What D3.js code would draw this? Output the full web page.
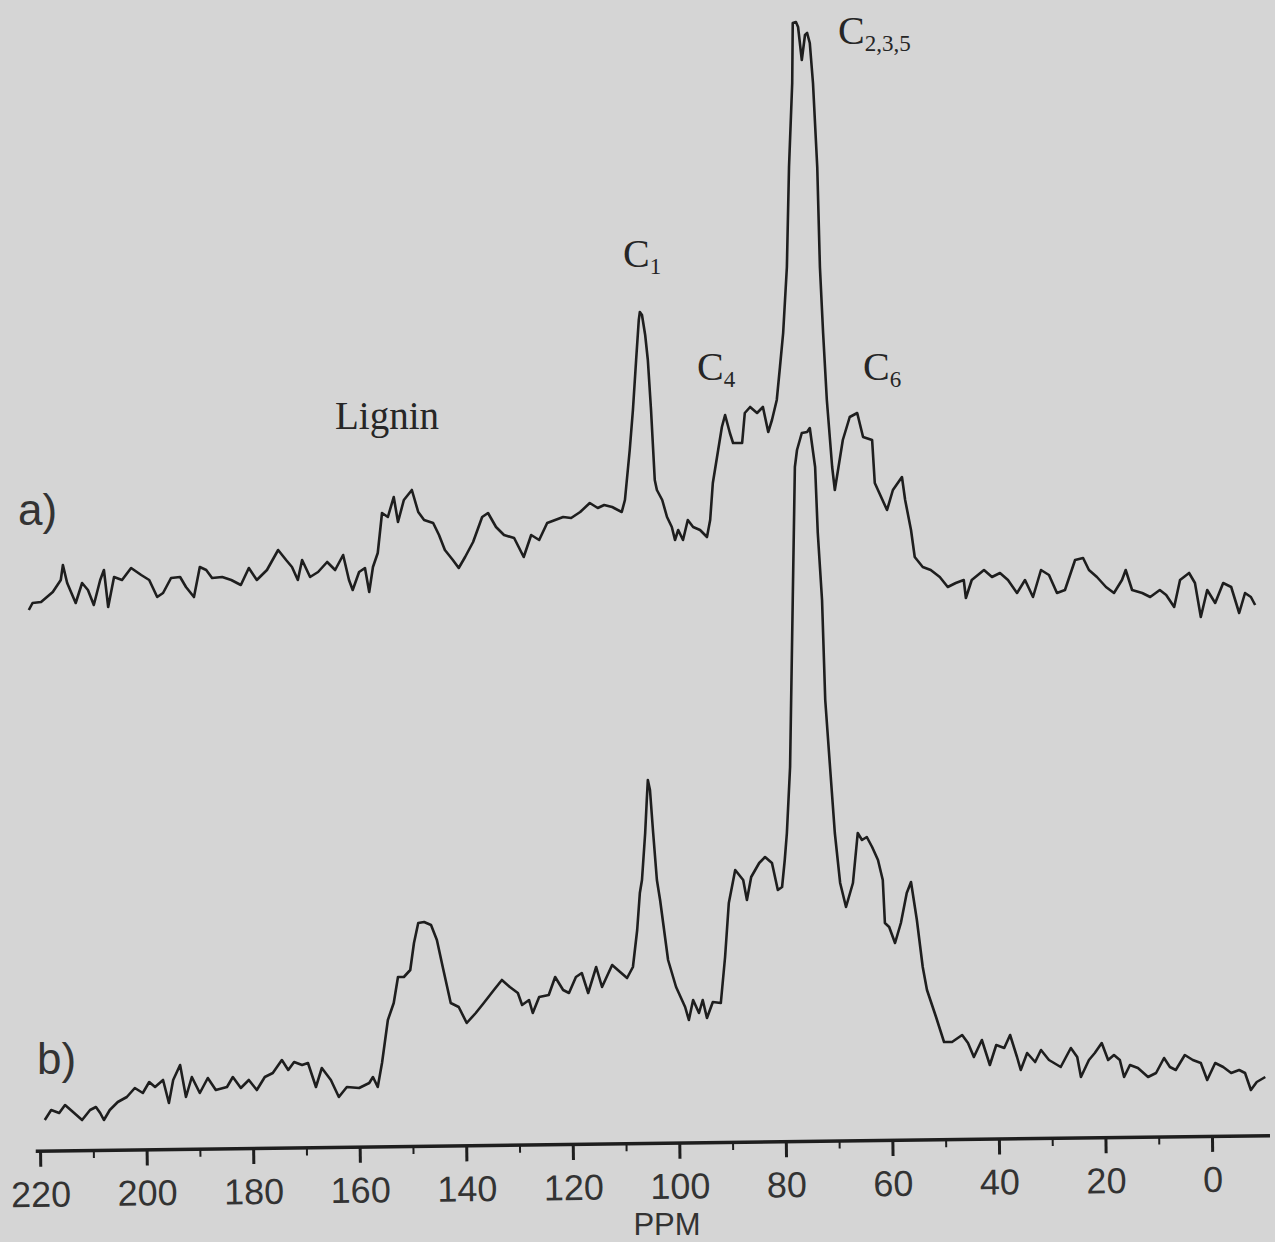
<!DOCTYPE html>
<html>
<head>
<meta charset="utf-8">
<script src="https://cdn.jsdelivr.net/npm/d3@7"></script>
<style>
body { margin: 0; background: #d5d5d5; }
</style>
</head>
<body>
<div id="plot"></div>
<script>
// tick labels of the ppm axis
var ppmTicks = [220, 200, 180, 160, 140, 120, 100, 80, 60, 40, 20, 0];
var ppmMinorTicks = [210, 190, 170, 150, 130, 110, 90, 70, 50, 30, 10];

// spectrum a) : [ppm, intensity (a.u.)]
var spectrumA = [
    [222.1,1.0],[221.4,1.7],[219.8,1.8],[217.6,2.8],[216.1,4.0],[215.7,5.5],[214.9,3.7],[213.3,1.7],[212.1,3.7],[211.0,3.0],
    [209.9,1.5],[208.7,4.0],[208.0,5.0],[207.2,1.3],[206.1,4.3],[204.6,4.0],[202.9,5.2],[201.0,4.5],[199.5,4.0],[198.0,2.3],
    [196.9,2.7],[195.4,4.2],[193.7,4.3],[192.6,3.3],[191.1,2.3],[190.0,5.3],[188.8,5.0],[187.7,4.2],[185.8,4.3],[184.1,4.0],
    [182.3,3.5],[180.8,5.2],[179.3,4.0],[177.4,5.0],[175.3,7.0],[173.8,6.0],[172.7,5.3],[171.6,4.0],[170.8,6.0],[169.3,4.3],
    [167.8,4.8],[166.1,5.8],[164.6,5.0],[163.1,6.5],[162.0,4.0],[161.3,3.0],[160.1,4.8],[159.0,5.2],[158.2,2.8],[157.5,5.3],
    [156.6,6.7],[155.8,10.7],[154.7,10.3],[153.6,12.3],[152.8,9.8],[151.7,12.0],[150.2,13.0],[149.0,10.8],[147.9,10.0],[146.2,9.7],
    [145.1,8.5],[144.0,7.0],[142.5,6.0],[141.4,5.2],[140.2,6.3],[138.7,7.8],[137.0,10.3],[135.9,10.7],[134.4,9.3],[132.9,8.5],
    [131.0,8.2],[129.2,6.3],[127.8,8.5],[126.3,8.0],[124.8,9.7],[123.3,10.0],[121.8,10.3],[120.3,10.2],[118.6,10.8],[116.8,11.7],
    [115.3,11.2],[114.1,11.5],[112.6,11.3],[110.8,10.8],[110.2,12.0],[109.3,17.0],[108.7,21.0],[108.1,26.0],[107.6,30.0],[107.4,30.8],
    [107.0,30.5],[106.4,28.5],[105.9,26.0],[105.3,21.0],[104.9,17.0],[104.6,14.0],[104.2,13.0],[103.2,12.0],[102.3,10.3],[101.4,9.3],
    [100.8,8.0],[100.2,9.0],[99.3,8.0],[98.4,10.0],[97.4,9.3],[96.1,9.0],[94.8,8.3],[94.2,10.0],[93.7,13.7],[92.7,17.0],
    [92.0,19.3],[91.4,20.5],[90.5,18.7],[89.9,17.7],[88.2,17.7],[87.7,20.7],[86.7,21.3],[85.4,20.7],[84.3,21.3],[83.3,18.8],
    [82.6,20.0],[81.7,22.0],[81.1,25.3],[80.5,28.7],[79.8,35.3],[79.4,45.3],[78.8,53.7],[78.7,59.7],[78.1,59.8],[77.7,59.3],
    [77.0,56.0],[76.4,58.5],[76.0,58.7],[75.5,57.7],[74.9,53.7],[74.1,45.3],[73.6,35.3],[73.0,28.7],[72.3,22.0],[71.3,15.3],
    [70.8,13.0],[69.3,18.0],[68.0,20.3],[66.6,20.7],[65.5,18.3],[63.8,18.0],[63.3,13.7],[61.0,11.0],[59.9,13.0],[58.2,14.3],
    [57.6,12.0],[56.5,9.0],[55.8,6.3],[54.3,5.3],[52.8,5.0],[51.1,4.3],[49.6,3.3],[48.1,3.7],[46.6,4.0],[46.2,2.2],
    [45.1,4.0],[42.8,5.0],[41.3,4.3],[39.8,4.7],[38.3,4.0],[36.6,2.7],[35.1,4.0],[33.6,2.3],[32.1,5.0],[30.6,4.5],
    [29.1,2.7],[27.6,3.0],[25.7,6.0],[24.2,6.2],[23.1,5.0],[21.6,4.3],[19.9,3.3],[18.4,2.7],[16.9,4.0],[16.2,5.0],
    [15.0,3.0],[13.1,2.7],[11.6,2.3],[9.8,3.0],[8.6,2.5],[7.1,1.3],[6.0,4.0],[4.3,4.7],[3.2,3.7],[2.1,0.3],
    [0.9,3.0],[-0.6,1.7],[-2.1,3.7],[-3.6,3.3],[-5.1,0.7],[-6.2,2.7],[-7.3,2.3],[-8.1,1.5]
];

// spectrum b) : [ppm, intensity (a.u.)]
var spectrumB = [
    [219.1,2.0],[217.9,3.0],[216.4,2.7],[215.3,3.5],[213.8,2.8],[212.1,2.0],[210.6,3.0],[209.5,3.3],[208.7,2.7],[208.0,2.0],
    [206.9,3.0],[205.4,3.8],[203.7,4.3],[202.2,5.2],[200.7,4.7],[199.5,5.8],[198.4,5.3],[196.9,6.0],[195.8,3.7],[195.0,6.0],
    [193.7,7.5],[192.6,4.3],[191.5,6.3],[190.0,4.7],[188.5,6.2],[187.0,5.0],[184.9,5.3],[183.8,6.3],[182.3,5.2],[180.8,6.0],
    [179.3,5.0],[177.8,6.3],[176.3,6.7],[174.6,8.0],[173.4,7.0],[172.3,7.8],[170.8,7.5],[169.7,7.7],[168.2,5.3],[167.1,7.2],
    [165.4,6.0],[163.9,4.3],[162.4,5.3],[160.1,5.2],[158.2,5.7],[157.5,6.3],[156.6,5.3],[155.8,7.7],[154.7,12.0],[153.6,13.7],
    [152.8,16.3],[151.7,16.3],[150.5,17.0],[149.8,19.7],[149.0,21.7],[147.9,21.8],[146.6,21.5],[145.5,20.0],[144.4,17.3],[142.9,13.7],
    [141.4,13.3],[139.9,11.7],[138.2,12.7],[136.7,13.7],[134.8,15.0],[133.3,16.0],[131.8,15.3],[130.3,14.7],[129.5,13.5],[128.2,14.0],
    [127.5,12.7],[126.3,14.3],[124.5,14.5],[123.3,16.3],[121.8,15.0],[120.7,14.7],[119.4,16.3],[118.3,16.7],[117.1,14.7],[115.6,17.3],
    [114.5,15.3],[112.6,17.5],[111.1,16.8],[109.8,16.2],[108.7,17.3],[107.9,21.0],[107.4,24.7],[107.0,26.0],[106.4,30.7],[106.1,34.0],
    [105.9,36.0],[105.5,35.0],[104.9,30.7],[104.2,26.0],[103.6,24.0],[102.1,18.0],[100.6,15.3],[98.9,13.3],[98.2,12.0],[97.4,14.0],
    [96.3,12.7],[95.6,14.0],[94.8,12.2],[93.7,13.8],[92.2,13.7],[91.4,18.3],[90.7,23.7],[89.5,27.0],[88.0,26.0],[87.3,24.0],
    [86.5,26.3],[85.0,27.7],[83.9,28.3],[82.6,27.7],[81.5,25.0],[80.7,25.3],[80.2,28.0],[79.8,30.7],[79.2,37.3],[78.7,54.0],
    [78.3,67.3],[77.9,69.0],[77.0,70.7],[76.0,70.8],[75.5,71.2],[74.5,67.3],[74.0,60.7],[73.2,54.0],[72.6,44.0],[71.7,37.3],
    [70.8,30.7],[69.8,25.7],[68.7,23.3],[67.4,25.7],[66.5,30.7],[65.7,30.0],[64.8,30.3],[63.8,29.3],[62.7,28.0],[61.8,26.0],
    [61.4,21.7],[60.6,21.3],[59.5,19.7],[58.4,21.7],[57.3,24.7],[56.5,25.8],[55.4,22.0],[54.3,17.3],[53.5,15.0],[51.8,12.3],
    [50.3,9.8],[48.8,9.8],[46.9,10.5],[45.8,9.7],[44.7,8.3],[43.2,10.0],[41.7,7.5],[40.5,9.5],[39.0,9.2],[37.9,10.5],
    [36.6,8.3],[35.9,7.0],[34.7,8.7],[33.2,7.8],[32.1,9.0],[30.6,8.0],[28.4,7.3],[26.5,9.2],[25.3,8.3],[24.6,6.3],
    [23.1,8.0],[22.0,8.7],[20.7,9.7],[19.5,8.0],[18.4,8.5],[17.3,8.0],[16.5,6.3],[15.4,7.5],[13.9,7.2],[12.0,6.3],
    [10.5,6.7],[9.0,8.2],[7.9,7.3],[6.8,7.0],[5.1,8.5],[3.6,8.0],[2.1,7.7],[0.9,6.0],[-0.6,7.7],[-2.1,7.3],
    [-3.6,6.7],[-5.1,7.0],[-6.2,6.7],[-7.3,5.0],[-8.4,5.8],[-10.0,6.3]
];

var traceLabels = ["a)", "b)"];
var peakLabels = [
    { main: "Lignin", sub: "" },
    { main: "C", sub: "1" },
    { main: "C", sub: "4" },
    { main: "C", sub: "2,3,5" },
    { main: "C", sub: "6" }
];
var axisTitle = "PPM";

// layout
var width = 1275, height = 1242;
var offsetA = 52; // vertical shift of trace a) above trace b)
var axisY = 1143;
var axisTilt = -0.73; // the scanned figure is slightly rotated
var ink = "#1e1e1e";
var labelInk = "#333";
var sansFont = "'Liberation Sans', Arial, sans-serif";
var serifFont = "'Liberation Serif', 'Times New Roman', serif";

var peakLabelPos = [[335, 429], [623, 267], [697, 380], [838, 44], [863, 380]];
var traceLabelPos = [[18, 525], [37, 1074]];

// scales
var x = d3.scaleLinear().domain([220, 0]).range([40, 1212]);
var y = d3.scaleLinear().domain([0, 110]).range([1140, 40]);

var svg = d3.select("#plot").append("svg")
    .attr("width", width)
    .attr("height", height);

svg.append("rect")
    .attr("width", width)
    .attr("height", height)
    .attr("fill", "#d5d5d5");

// spectra
var lineA = d3.line()
    .x(function (d) { return x(d[0]); })
    .y(function (d) { return y(d[1] + offsetA); });
var lineB = d3.line()
    .x(function (d) { return x(d[0]); })
    .y(function (d) { return y(d[1]); });

svg.append("path")
    .datum(spectrumA)
    .attr("d", lineA)
    .attr("fill", "none")
    .attr("stroke", ink)
    .attr("stroke-width", 2.6)
    .attr("stroke-linejoin", "round");

svg.append("path")
    .datum(spectrumB)
    .attr("d", lineB)
    .attr("fill", "none")
    .attr("stroke", ink)
    .attr("stroke-width", 2.6)
    .attr("stroke-linejoin", "round");

// ppm axis (extends a little past 220 and 0)
var xAxisScale = x.copy().domain([220.9, -10.8]).range([x(220.9), x(-10.8)]);

var axisG = svg.append("g")
    .attr("transform", "rotate(" + axisTilt + ",652," + axisY + ") translate(0," + axisY + ")");

axisG.call(d3.axisBottom(xAxisScale)
    .tickValues(ppmTicks)
    .tickSize(16)
    .tickSizeOuter(0)
    .tickFormat(d3.format("d")));

axisG.attr("font-size", null).attr("font-family", null);
axisG.select(".domain").attr("stroke", ink).attr("stroke-width", 3.5);
axisG.selectAll(".tick line").attr("stroke", ink).attr("stroke-width", 3);
axisG.selectAll(".tick text")
    .attr("y", 56)
    .attr("dy", null)
    .attr("fill", labelInk)
    .style("font-family", sansFont)
    .style("font-size", "36px");

var minorG = axisG.append("g")
    .call(d3.axisBottom(xAxisScale).tickValues(ppmMinorTicks).tickSize(8).tickFormat(""));
minorG.select(".domain").remove();
minorG.selectAll(".tick line").attr("stroke", ink).attr("stroke-width", 2);

svg.append("text")
    .attr("x", 667)
    .attr("y", 1235)
    .attr("text-anchor", "middle")
    .attr("fill", labelInk)
    .style("font-family", sansFont)
    .style("font-size", "31px")
    .text(axisTitle);

// a) / b)
svg.selectAll(".trace-label").data(traceLabels).enter().append("text")
    .attr("class", "trace-label")
    .attr("x", function (d, i) { return traceLabelPos[i][0]; })
    .attr("y", function (d, i) { return traceLabelPos[i][1]; })
    .attr("fill", labelInk)
    .style("font-family", sansFont)
    .style("font-size", "44px")
    .text(String);

// peak assignments
var peakText = svg.selectAll(".peak-label").data(peakLabels).enter().append("text")
    .attr("class", "peak-label")
    .attr("x", function (d, i) { return peakLabelPos[i][0]; })
    .attr("y", function (d, i) { return peakLabelPos[i][1]; })
    .attr("fill", "#262626")
    .style("font-family", serifFont)
    .style("font-size", function (d) { return d.sub ? "40px" : "39px"; });

peakText.append("tspan").text(function (d) { return d.main; });
peakText.filter(function (d) { return d.sub; }).append("tspan")
    .attr("dy", 7)
    .style("font-size", "23px")
    .text(function (d) { return d.sub; });
</script>
</body>
</html>
